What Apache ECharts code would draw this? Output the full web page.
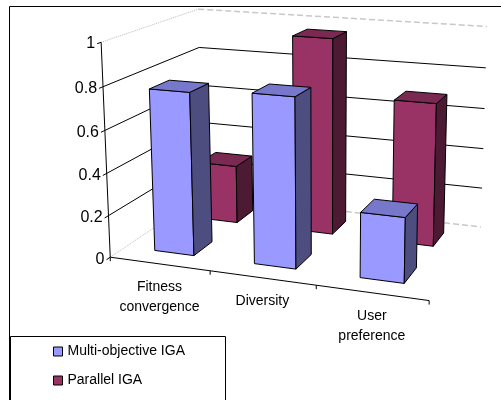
<!DOCTYPE html>
<html>
<head>
<meta charset="utf-8">
<script src="https://cdn.jsdelivr.net/npm/echarts@6.0.0/dist/echarts.min.js"></script>
<style>
  html, body { margin: 0; padding: 0; background: #fff; }
  #chart { width: 501px; height: 400px; }
</style>
</head>
<body>
<div id="chart"></div>
<script>
// ---- data ----
const categories = ['Fitness\nconvergence', 'Diversity', 'User\npreference'];
const seriesNames = ['Multi-objective IGA', 'Parallel IGA'];
const multiObjectiveIGA = [0.77, 0.79, 0.30];
const parallelIGA = [0.29, 0.96, 0.69];
const valueTicks = [0, 0.2, 0.4, 0.6, 0.8, 1];
const valueTickLabels = ['0', '0.2', '0.4', '0.6', '0.8', '1'];

// ---- 3D frame layout: world (category units, value 0..1, depth 0..1) -> screen ----
const S = 100;
const FRAME_ANCHORS = [
  [0, 1, 0, 101, 42.7], [0, 0.8, 0, 102.7, 88.3], [0, 0.6, 0, 105, 130],
  [0, 0.4, 0, 106, 174], [0, 0.2, 0, 108, 214.3], [0, 0, 0, 110.7, 257.3],
  [1, 0, 0, 210, 270.6], [2, 0, 0, 316.7, 285], [3, 0, 0, 430, 300],
  [0, 1, 1, 200, 8.3], [0, 0.8, 1, 198.3, 47.7],
  [3, 1, 1, 488.3, 25.7], [3, 0.8, 1, 485, 68.3], [3, 0.6, 1, 483.3, 108.3],
  [3, 0.4, 1, 482.7, 148.3], [3, 0.2, 1, 481.7, 189], [3, 0, 1, 481.7, 227.7]
];

// least-squares perspective camera (3x4 matrix, last entry fixed to 1)
function solveProjection(anchors) {
  const n = 11;
  const M = [];
  for (let i = 0; i < n; i++) M.push(new Array(n + 1).fill(0));
  const add = (r, b) => {
    for (let i = 0; i < n; i++) {
      for (let j = 0; j < n; j++) M[i][j] += r[i] * r[j];
      M[i][n] += r[i] * b;
    }
  };
  anchors.forEach(([X, Y, Z, u, v]) => {
    u /= S; v /= S;
    add([X, Y, Z, 1, 0, 0, 0, 0, -u * X, -u * Y, -u * Z], u);
    add([0, 0, 0, 0, X, Y, Z, 1, -v * X, -v * Y, -v * Z], v);
  });
  for (let c = 0; c < n; c++) {
    let p = c;
    for (let r = c + 1; r < n; r++) if (Math.abs(M[r][c]) > Math.abs(M[p][c])) p = r;
    [M[c], M[p]] = [M[p], M[c]];
    for (let r = 0; r < n; r++) {
      if (r === c) continue;
      const f = M[r][c] / M[c][c];
      for (let k = c; k <= n; k++) M[r][k] -= f * M[c][k];
    }
  }
  return M.map((row, i) => row[n] / row[i]);
}
const P = solveProjection(FRAME_ANCHORS);
function project(X, Y, Z) {
  const w = P[8] * X + P[9] * Y + P[10] * Z + 1;
  return [(P[0] * X + P[1] * Y + P[2] * Z + P[3]) / w * S,
          (P[4] * X + P[5] * Y + P[6] * Z + P[7]) / w * S];
}

const ROWS = 2;      // one depth row per series
const BAR_W = 0.4;   // share of a category slot
const BAR_D = 0.2;   // share of the full depth
const FONT = '"Liberation Sans", Arial, sans-serif';

const faceColors = [
  { front: '#9999FF', top: '#7777CC', side: '#4D4D80' },
  { front: '#993366', top: '#7A2952', side: '#4D1A33' }
];

// world-unit helpers built from the hidden cartesian axes
function worldScale(api) {
  const band = api.size([1, 0])[0];
  const left = api.coord([0, 0])[0] - band / 2;
  const base = api.coord([0, 0])[1];
  const unit = base - api.coord([0, 1])[1];
  return {
    x: (i) => (api.coord([i, 0])[0] - left) / band,
    y: (v) => (base - api.coord([0, v])[1]) / unit,
    edgeRight: categories.length
  };
}

function poly(pts, fill) {
  return {
    type: 'polygon',
    shape: { points: pts.map(p => project(p[0], p[1], p[2])) },
    style: { fill: fill, stroke: '#000', lineWidth: 1, lineJoin: 'round' }
  };
}

function barRenderer(row) {
  const col = faceColors[row];
  return function (params, api) {
    const g = worldScale(api);
    const Xc = g.x(api.value(0));
    const Y = g.y(api.value(1));
    const zc = (row + 0.5) / ROWS;
    const x0 = Xc - BAR_W / 2, x1 = Xc + BAR_W / 2;
    const z0 = zc - BAR_D / 2, z1 = zc + BAR_D / 2;
    return {
      type: 'group',
      children: [
        poly([[x0, 0, z0], [x1, 0, z0], [x1, Y, z0], [x0, Y, z0]], col.front),
        poly([[x1, 0, z0], [x1, 0, z1], [x1, Y, z1], [x1, Y, z0]], col.side),
        poly([[x0, Y, z0], [x1, Y, z0], [x1, Y, z1], [x0, Y, z1]], col.top)
      ]
    };
  };
}

function seg(a, b, style) {
  return { type: 'line', shape: { x1: a[0], y1: a[1], x2: b[0], y2: b[1] }, style: style };
}

// walls, gridlines, axes, ticks and labels
function frameRenderer(params, api) {
  const g = worldScale(api);
  const XR = g.edgeRight;
  const solid = { stroke: '#000', lineWidth: 1 };
  const sideEdge = { stroke: '#BBBBBB', lineWidth: 1, lineDash: [1, 1] };
  const backEdge = { stroke: '#C8C8C8', lineWidth: 1.5, lineDash: [6, 3] };
  const kids = [];
  valueTicks.forEach((v, k) => {
    const Y = g.y(v);
    const edge = (k === 0 || k === valueTicks.length - 1);
    kids.push(seg(project(0, Y, 0), project(0, Y, 1), edge ? sideEdge : solid));
    kids.push(seg(project(0, Y, 1), project(XR, Y, 1), edge ? backEdge : solid));
  });
  kids.push(seg(project(0, 0, 0), project(0, 1, 0), solid));
  valueTicks.forEach((v, k) => {
    const Y = g.y(v);
    const a = project(0, Y, 0), b = project(0, Y, -0.035);
    kids.push(seg(a, b, solid));
    kids.push({
      type: 'text',
      style: { x: b[0] - 2, y: b[1], text: valueTickLabels[k], align: 'right', verticalAlign: 'middle',
               font: '16px ' + FONT, fill: '#000' }
    });
  });
  kids.push(seg(project(0, 0, 0), project(XR, 0, 0), solid));
  for (let i = 0; i <= XR; i++) {
    const a = project(i, 0, 0);
    kids.push(seg(a, [a[0], a[1] + 4], solid));
  }
  categories.forEach((name, i) => {
    const m = project(g.x(i), 0, 0);
    kids.push({
      type: 'text',
      style: { x: m[0], y: m[1] + 13.5, text: name, align: 'center', verticalAlign: 'top',
               lineHeight: 20, font: '14px ' + FONT, fill: '#000' }
    });
  });
  return { type: 'group', children: kids };
}

const chart = echarts.init(document.getElementById('chart'), null, { renderer: 'canvas' });
chart.setOption({
  animation: false,
  backgroundColor: '#fff',
  grid: { left: 0, top: 0, width: 300, height: 100, show: false },
  xAxis: { type: 'category', data: categories, show: false },
  yAxis: { type: 'value', min: 0, max: 1, show: false },
  legend: {
    orient: 'vertical', left: 53, top: 343.5, padding: 0, z: 10,
    itemWidth: 9, itemHeight: 9, itemGap: 13, icon: 'rect',
    textStyle: { fontSize: 14, fontFamily: FONT, color: '#000', lineHeight: 16 },
    data: [
      { name: seriesNames[0], itemStyle: { color: faceColors[0].front, borderColor: '#000', borderWidth: 1 } },
      { name: seriesNames[1], itemStyle: { color: faceColors[1].front, borderColor: '#000', borderWidth: 1 } }
    ],
    selectedMode: false
  },
  graphic: [
    { type: 'rect', z: 0, shape: { x: 9.5, y: 6.5, width: 600, height: 600 }, style: { fill: 'none', stroke: '#000', lineWidth: 1 } },
    { type: 'rect', z: 1, shape: { x: 10.5, y: 336.5, width: 215, height: 100 }, style: { fill: '#fff', stroke: '#000', lineWidth: 1 } }
  ],
  series: [
    { type: 'custom', name: 'frame', silent: true, clip: false, z: 1, data: [[0, 0]], renderItem: frameRenderer },
    { type: 'custom', name: seriesNames[1], clip: false, z: 2, silent: true,
      itemStyle: { color: faceColors[1].front },
      data: parallelIGA.map((v, i) => [i, v]), encode: { x: 0, y: 1 }, renderItem: barRenderer(1) },
    { type: 'custom', name: seriesNames[0], clip: false, z: 3, silent: true,
      itemStyle: { color: faceColors[0].front },
      data: multiObjectiveIGA.map((v, i) => [i, v]), encode: { x: 0, y: 1 }, renderItem: barRenderer(0) }
  ]
});
</script>
</body>
</html>
